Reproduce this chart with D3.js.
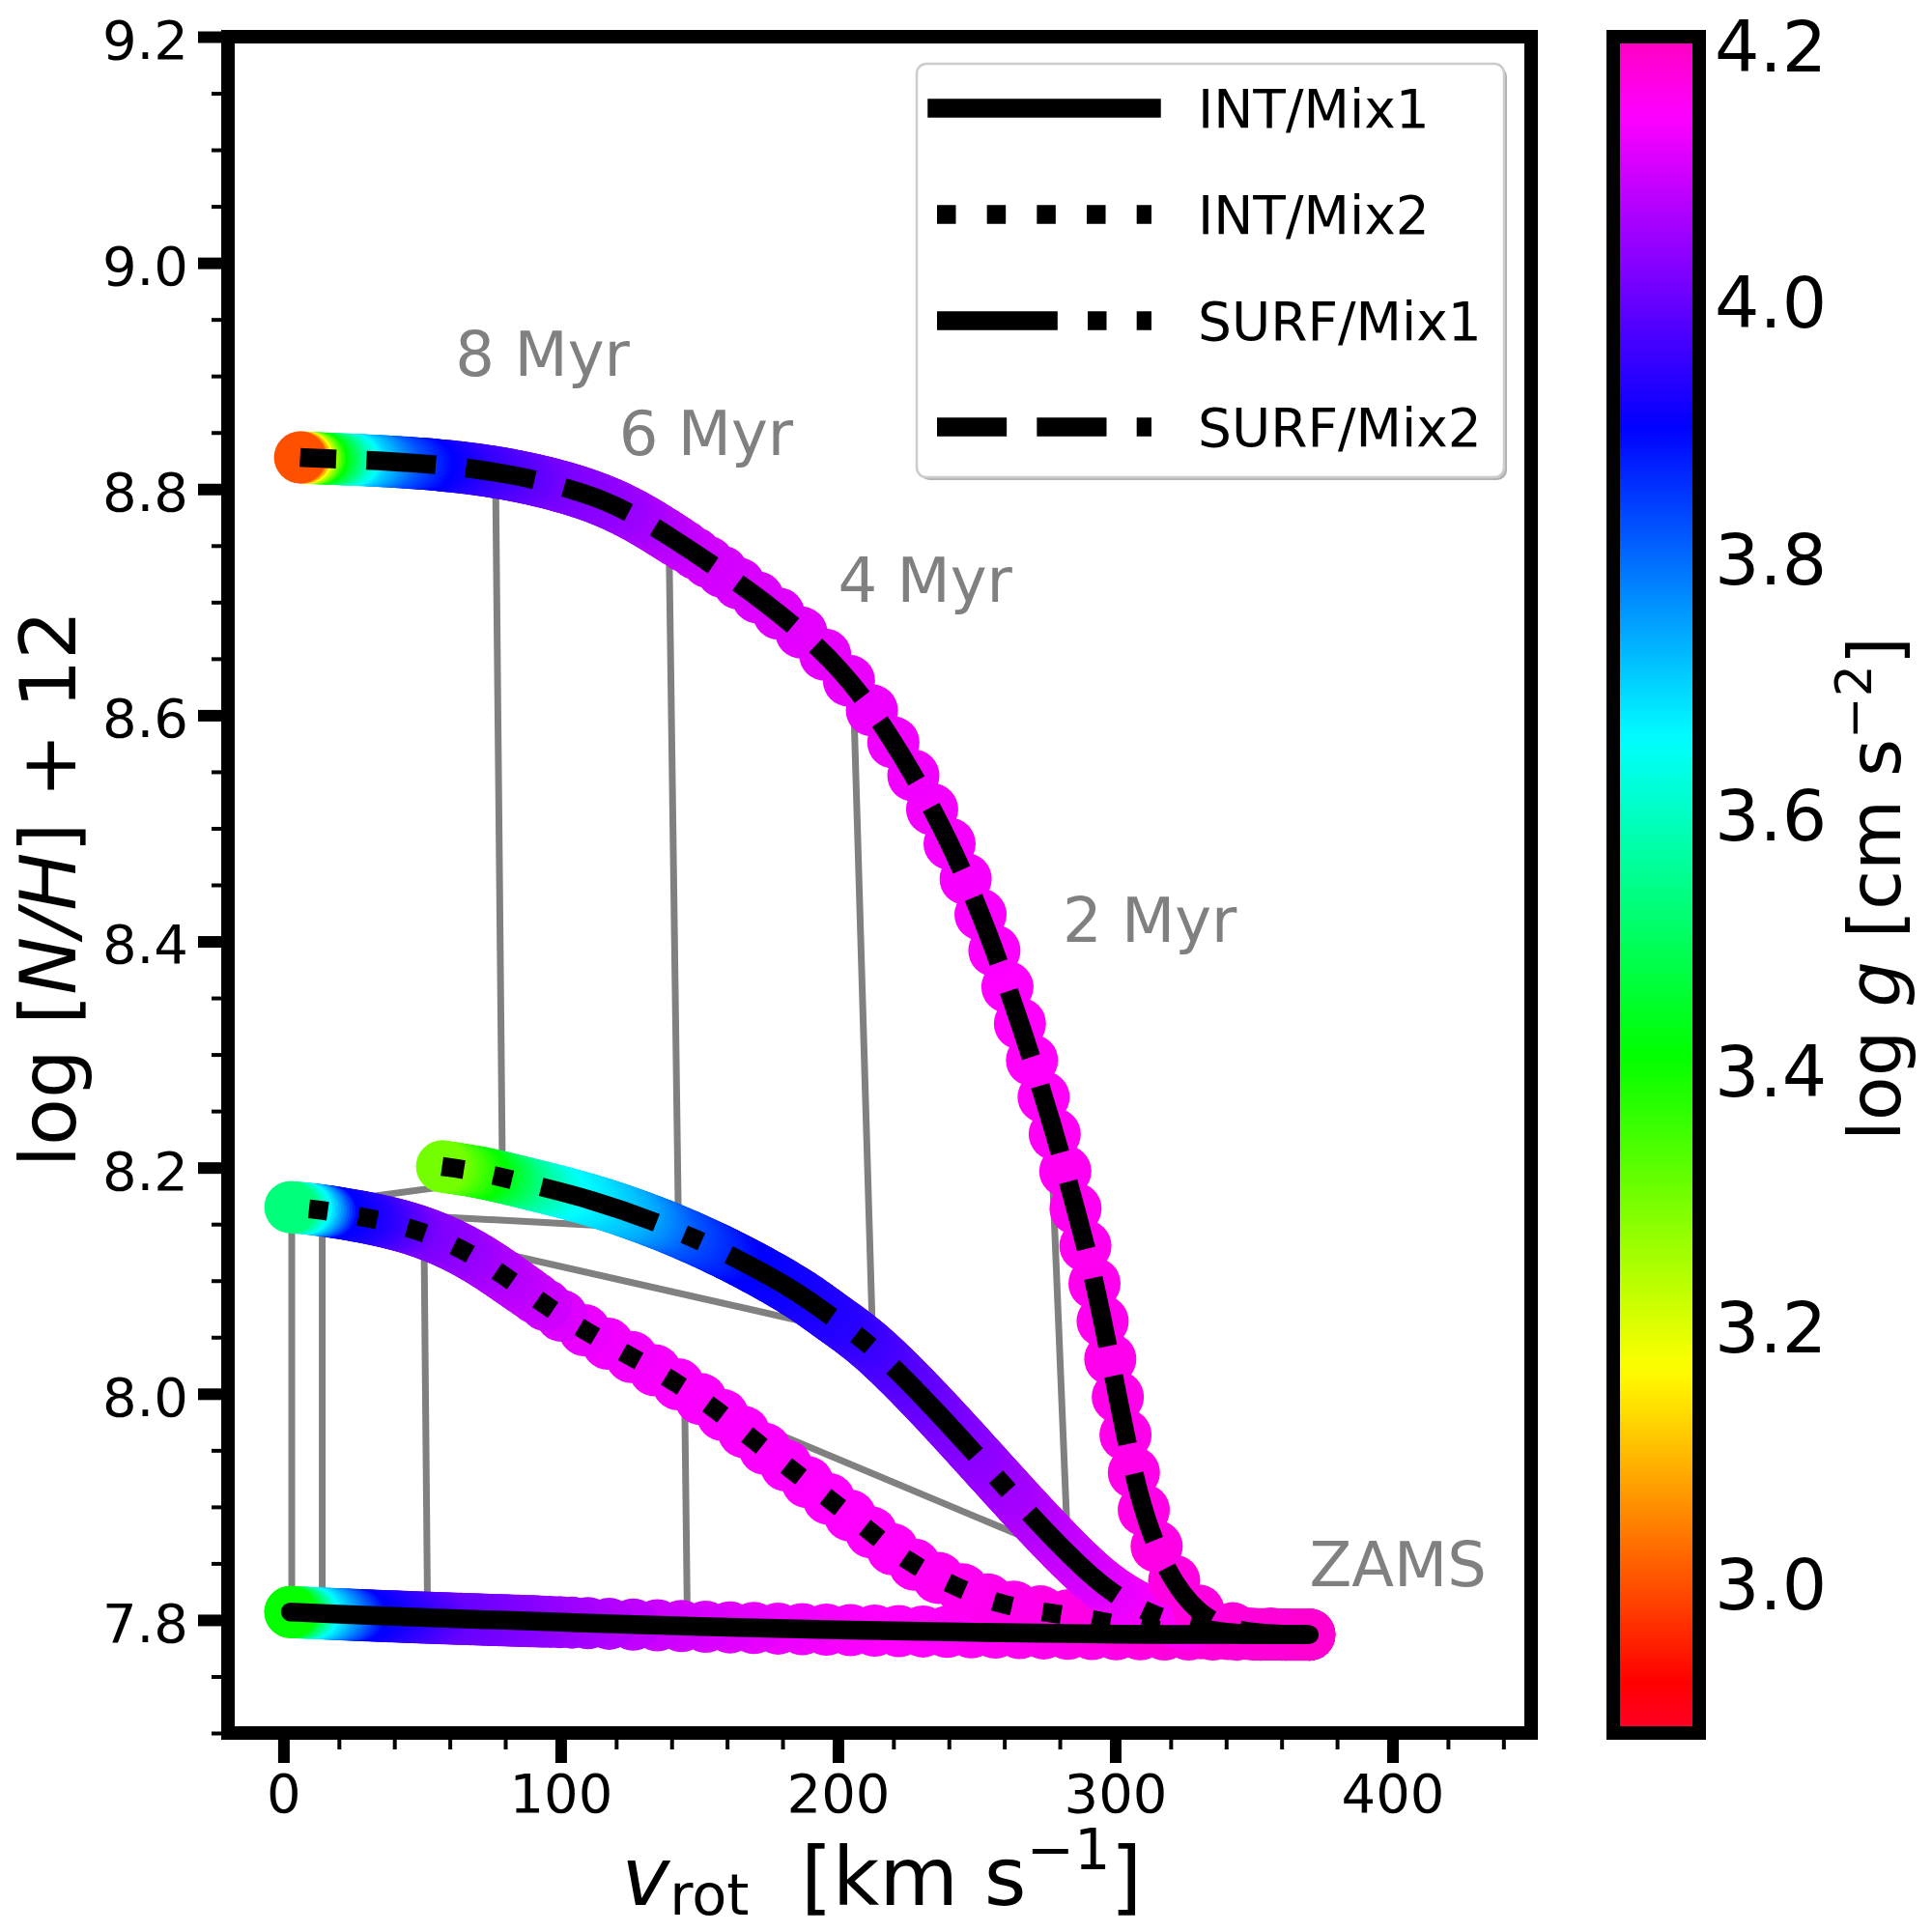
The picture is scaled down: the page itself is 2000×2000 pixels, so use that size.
<!DOCTYPE html>
<html>
<head>
<meta charset="utf-8">
<script src="https://cdn.jsdelivr.net/npm/d3@7"></script>
<style>
  body { margin: 0; background: #fff; }
  svg { display: block; }
  text { font-family: "DejaVu Sans", sans-serif; }
</style>
</head>
<body>
<svg id="chart" width="2000" height="2000"></svg>
<script>
// tracks run from the ZAMS (right) to the end of the model (left)
// INT/Mix1
const int1Vrot = [370, 300, 250, 200, 150, 100, 50, 20, 2.5];
const int1NH   = [7.787, 7.787, 7.789, 7.791, 7.794, 7.798, 7.802, 7.805, 7.807];
const int1GVrot = [370, 300, 250, 200, 178, 138, 98, 58, 28, 10.8, 2.5];
const int1Logg  = [4.19, 4.17, 4.155, 4.14, 4.13, 4.10, 4.05, 4.00, 3.90, 3.66, 3.41];

// INT/Mix2
const int2Vrot = [370, 345, 320, 305, 291, 274, 257, 240, 225.2, 211.3, 197.2, 183.2, 169,
                  155.3, 140.3, 124.6, 109, 93.9, 79.5, 64.2, 47.5, 30.2, 12.4, 2.5];
const int2NH   = [7.787, 7.787, 7.789, 7.794, 7.801, 7.807, 7.814, 7.832, 7.851, 7.879, 7.906, 7.933, 7.96,
                  7.988, 8.012, 8.034, 8.055, 8.079, 8.105, 8.129, 8.146, 8.156, 8.163, 8.165];
const int2GVrot = [370, 300, 200, 140, 110, 94, 79, 64, 47, 30, 17.6, 12, 2.5];
const int2Logg  = [4.19, 4.175, 4.145, 4.14, 4.13, 4.10, 4.08, 4.05, 4.02, 3.94, 3.90, 3.75, 3.53];

// SURF/Mix1
const surf1Vrot = [370, 345, 330, 314.5, 299, 283.5, 260, 236.7, 212, 198, 187, 163, 137.9, 111.3, 84.5, 71.3, 57.2];
const surf1NH   = [7.787, 7.787, 7.792, 7.803, 7.822, 7.856, 7.918, 7.982, 8.044, 8.067, 8.088, 8.121,
                   8.149, 8.172, 8.188, 8.196, 8.201];
const surf1GVrot = [370, 330, 320, 299, 283, 260, 237, 198, 162, 140, 125, 111, 100, 85, 71, 57];
const surf1Logg  = [4.19, 4.18, 4.15, 4.13, 4.10, 4.06, 4.02, 3.94, 3.90, 3.82, 3.74, 3.69, 3.66, 3.55, 3.41, 3.30];

// SURF/Mix2
const surf2Vrot = [370, 345, 330, 317.6, 308.4, 300.5, 292.9, 286.7, 277.3, 266.4, 253.9, 240, 222.9,
                   202.7, 174.7, 137.4, 114.8, 79, 45.5, 13.6, 6];
const surf2NH   = [7.787, 7.788, 7.803, 7.845, 7.906, 8.002, 8.097, 8.155, 8.239, 8.323, 8.411, 8.491, 8.567,
                   8.640, 8.700, 8.762, 8.794, 8.816, 8.824, 8.827, 8.828];
const surf2GVrot = [370, 300, 250, 200, 175, 146, 120, 95, 66, 52, 40, 28, 22, 14, 10, 6];
const surf2Logg  = [4.19, 4.165, 4.14, 4.125, 4.115, 4.10, 4.05, 4.02, 3.95, 3.90, 3.82, 3.70, 3.60, 3.42, 3.25, 3.00];

// isochrones: points on INT/Mix1, INT/Mix2, SURF/Mix1, SURF/Mix2
const isoAges = ["2 Myr", "4 Myr", "6 Myr", "8 Myr"];
const isoVrot = [[145.7, 144.7, 283, 276.5], [52, 50.7, 212.5, 205.5], [14, 14, 142.5, 139], [3, 3, 79, 76.5]];
const isoNH   = [[7.795, 7.999, 7.857, 8.245], [7.802, 8.14, 8.05, 8.625], [7.806, 8.162, 8.145, 8.765], [7.807, 8.165, 8.19, 8.815]];

const noteText = ["8 Myr", "6 Myr", "4 Myr", "2 Myr", "ZAMS"];
const noteVrot = [62, 121, 200, 281, 370];
const noteNH   = [8.9, 8.83, 8.7, 8.4, 7.83];

const xMajor = [0, 100, 200, 300, 400];
const xMinor = d3.range(20, 441, 20).filter(d => d % 100 !== 0);
const yMajor = [7.8, 8.0, 8.2, 8.4, 8.6, 8.8, 9.0, 9.2];
const yMinor = d3.range(7.7, 9.2001, 0.05).filter(d => Math.abs(d * 5 - Math.round(d * 5)) > 1e-6);
const cbTicks = [3.0, 3.2, 3.4, 3.6, 3.8, 4.0, 4.2];

const lw = 19.5;
// sparse: marker spacing (px) once log g is above sparseG (fast early evolution)
const tracks = [
  {name: "INT/Mix1",  vrot: int1Vrot,  nh: int1NH,  gv: int1GVrot,  gl: int1Logg,  dash: null, sparseG: 4.08, sparse: 25},
  {name: "INT/Mix2",  vrot: int2Vrot,  nh: int2NH,  gv: int2GVrot,  gl: int2Logg,  dash: [lw, 1.65 * lw], sparseG: 4.125, sparse: 28},
  {name: "SURF/Mix1", vrot: surf1Vrot, nh: surf1NH, gv: surf1GVrot, gl: surf1Logg, dash: [6.4 * lw, 1.6 * lw, lw, 1.6 * lw], sparseG: 9, sparse: 3},
  {name: "SURF/Mix2", vrot: surf2Vrot, nh: surf2NH, gv: surf2GVrot, gl: surf2Logg, dash: [3.7 * lw, 1.6 * lw], sparseG: 4.13, sparse: 40}
];

const svg = d3.select("#chart");
svg.append("rect").attr("width", 2000).attr("height", 2000).attr("fill", "#fff");

const x = d3.scaleLinear([-20, 450], [236, 1585]);
const y = d3.scaleLinear([7.7, 9.2], [1794, 38]);
const cb = d3.scaleLinear([2.883, 4.207], [1794, 38]);

// matplotlib gist_rainbow
const gist = d3.scaleLinear()
  .domain([0, 0.03, 0.215, 0.4, 0.586, 0.77, 0.954, 1])
  .range(["#ff0029", "#ff0000", "#ffff00", "#00ff00", "#00ffff", "#0000ff", "#ff00ff", "#ff00bf"])
  .interpolate(d3.interpolateRgb);
const norm = d3.scaleLinear(cb.domain(), [0, 1]).clamp(true);
const cmap = g => gist(norm(g));

// isochrones
svg.append("g").selectAll("path")
  .data(isoVrot)
  .join("path")
  .attr("d", (vs, i) => d3.line()(vs.map((v, j) => [x(v), y(isoNH[i][j])])))
  .attr("fill", "none")
  .attr("stroke", "#808080")
  .attr("stroke-width", 7);

const curve = d3.line().x(d => x(d[0])).y(d => y(d[1])).curve(d3.curveBasis);

// coloured log g bands (scatter of big markers along each track)
const bands = svg.append("g");
tracks.forEach(t => {
  const pts = t.vrot.map((v, i) => [v, t.nh[i]]);
  const guide = svg.append("path").attr("d", curve(pts)).attr("fill", "none");
  const node = guide.node();
  const len = node.getTotalLength();
  const gAt = d3.scaleLinear().domain(t.gv).range(t.gl).clamp(true);
  // spacing grows smoothly from 3 px to t.sparse over 0.04 in log g
  const step = d3.scaleLinear([t.sparseG - 0.04, t.sparseG], [3, t.sparse]).clamp(true);
  const samples = [];
  for (let l = 0; l < len; ) {
    const p = node.getPointAtLength(l);
    const g = gAt(x.invert(p.x));
    samples.push({x: p.x, y: p.y, g});
    l += step(g);
  }
  const pe = node.getPointAtLength(len);
  samples.push({x: pe.x, y: pe.y, g: gAt(x.invert(pe.x))});
  bands.append("g").selectAll("circle")
    .data(samples)
    .join("circle")
    .attr("cx", p => p.x)
    .attr("cy", p => p.y)
    .attr("r", 27)
    .attr("fill", p => cmap(p.g));
  guide.remove();
});

// black track lines
svg.append("g").selectAll("path")
  .data(tracks)
  .join("path")
  .attr("d", t => curve(t.vrot.map((v, i) => [v, t.nh[i]])))
  .attr("fill", "none")
  .attr("stroke", "#000")
  .attr("stroke-width", lw)
  .attr("stroke-linecap", t => t.dash ? "butt" : "round")
  .attr("stroke-dasharray", t => t.dash ? t.dash.join(",") : null);

// gray annotations
svg.append("g").selectAll("text")
  .data(noteText)
  .join("text")
  .attr("x", (d, i) => x(noteVrot[i]))
  .attr("y", (d, i) => y(noteNH[i]))
  .attr("font-size", 64)
  .attr("fill", "#808080")
  .text(d => d);

// spines
svg.append("rect")
  .attr("x", x.range()[0]).attr("y", y.range()[1])
  .attr("width", x.range()[1] - x.range()[0])
  .attr("height", y.range()[0] - y.range()[1])
  .attr("fill", "none").attr("stroke", "#000").attr("stroke-width", 14);

// axes
function styleAxis(g, width) {
  g.select(".domain").remove();
  g.attr("font-size", 56).attr("font-family", "DejaVu Sans");
  g.selectAll("line").attr("stroke-width", width);
  g.selectAll("text").attr("fill", "#000");
}
svg.append("g").attr("transform", "translate(0,1794)")
  .call(d3.axisBottom(x).tickValues(xMinor).tickSize(17).tickFormat(""))
  .call(g => styleAxis(g, 4));
svg.append("g").attr("transform", "translate(0,1794)")
  .call(d3.axisBottom(x).tickValues(xMajor).tickSize(31).tickPadding(11).tickFormat(d3.format("d")))
  .call(g => styleAxis(g, 12));
svg.append("g").attr("transform", "translate(236,0)")
  .call(d3.axisLeft(y).tickValues(yMinor).tickSize(17).tickFormat(""))
  .call(g => styleAxis(g, 4));
svg.append("g").attr("transform", "translate(236,0)")
  .call(d3.axisLeft(y).tickValues(yMajor).tickSize(31).tickPadding(10).tickFormat(d3.format(".1f")))
  .call(g => styleAxis(g, 12))
  .call(g => g.selectAll("text").attr("dy", "0.4em"));

// axis labels
const yl = svg.append("text")
  .attr("transform", "translate(78,920) rotate(-90)")
  .attr("text-anchor", "middle").attr("font-size", 80);
yl.append("tspan").text("log [");
yl.append("tspan").attr("font-style", "italic").text("N/H");
yl.append("tspan").text("] + 12");

const xl = svg.append("text")
  .attr("x", 913).attr("y", 1972)
  .attr("text-anchor", "middle").attr("font-size", 84);
xl.append("tspan").attr("font-style", "italic").text("v");
xl.append("tspan").attr("font-size", 59).attr("dy", 10).text("rot");
xl.append("tspan").attr("dy", -10).text("\u00a0\u00a0[km s");
xl.append("tspan").attr("font-size", 59).attr("dy", -37).text("\u22121");
xl.append("tspan").attr("dy", 37).text("]");

// colorbar
const defs = svg.append("defs");
const grad = defs.append("linearGradient").attr("id", "cbgrad")
  .attr("x1", 0).attr("y1", 1).attr("x2", 0).attr("y2", 0);
grad.selectAll("stop")
  .data(d3.range(0, 1.0001, 0.01))
  .join("stop")
  .attr("offset", d => d)
  .attr("stop-color", d => gist(d));
svg.append("rect")
  .attr("x", 1670).attr("y", 38).attr("width", 89).attr("height", 1756)
  .attr("fill", "url(#cbgrad)")
  .attr("stroke", "#000").attr("stroke-width", 14);
svg.append("g").attr("transform", "translate(1759,0)")
  .call(d3.axisRight(cb).tickValues(cbTicks).tickSize(0).tickPadding(16).tickFormat(d3.format(".1f")))
  .call(g => styleAxis(g, 0))
  .call(g => g.attr("font-size", 73).selectAll("text").attr("dy", "0.36em"));

const cl = svg.append("text")
  .attr("transform", "translate(1967,920) rotate(-90)")
  .attr("text-anchor", "middle").attr("font-size", 75);
cl.append("tspan").text("log\u00a0");
cl.append("tspan").attr("font-style", "italic").text("g");
cl.append("tspan").text("\u00a0[cm s");
cl.append("tspan").attr("font-size", 52).attr("dy", -30).text("\u22122");
cl.append("tspan").attr("dy", 30).text("]");

// legend
const leg = svg.append("g");
leg.append("rect")
  .attr("x", 952).attr("y", 69).attr("width", 608).attr("height", 428).attr("rx", 10)
  .attr("fill", "#000").attr("opacity", 0.3);
leg.append("rect")
  .attr("x", 949).attr("y", 66).attr("width", 608).attr("height", 428).attr("rx", 10)
  .attr("fill", "#fff").attr("stroke", "#cccccc").attr("stroke-width", 2.5);
const rowY = [112, 222, 332, 442];
tracks.forEach((t, i) => {
  leg.append("line")
    .attr("x1", 970).attr("x2", 1192).attr("y1", rowY[i]).attr("y2", rowY[i])
    .attr("stroke", "#000").attr("stroke-width", lw)
    .attr("stroke-linecap", t.dash ? "butt" : "square")
    .attr("stroke-dasharray", t.dash ? t.dash.join(",") : null);
  leg.append("text")
    .attr("x", 1240).attr("y", rowY[i] + 20)
    .attr("font-size", 55)
    .text(t.name);
});
</script>
</body>
</html>
